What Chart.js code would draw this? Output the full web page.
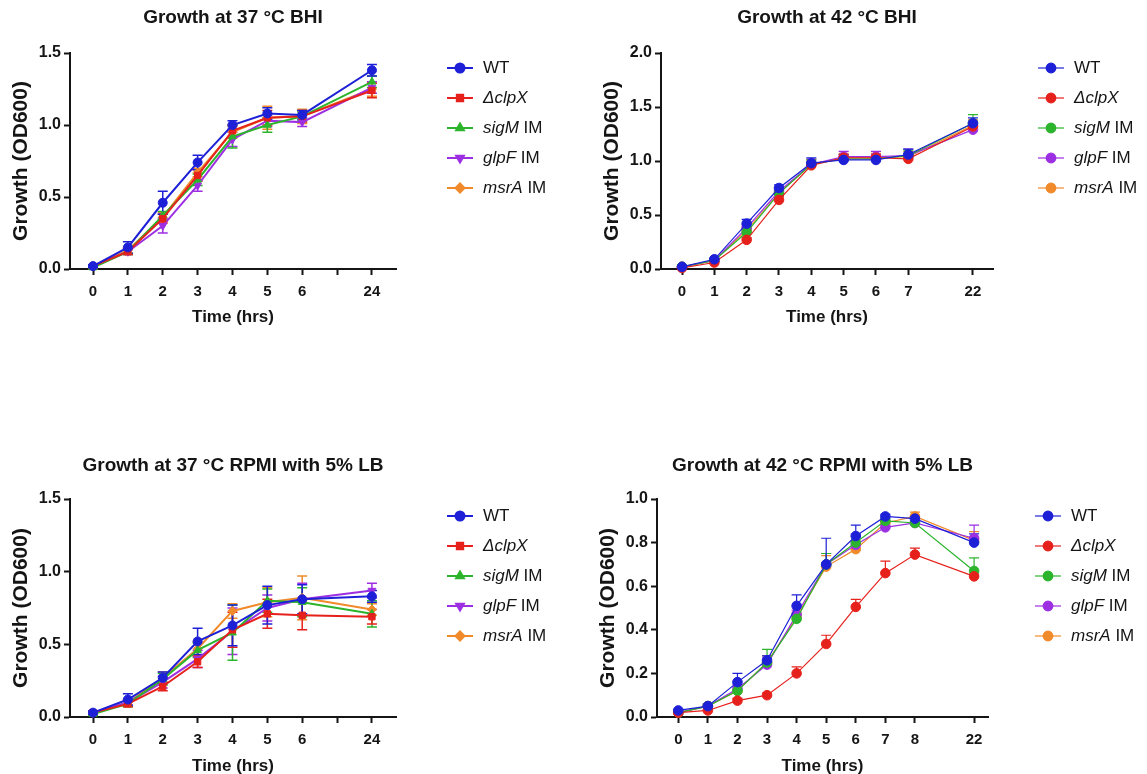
<!DOCTYPE html>
<html>
<head>
<meta charset="utf-8">
<title>Growth curves</title>
<script src="https://cdn.jsdelivr.net/npm/chart.js@4.4.1/dist/chart.umd.min.js"></script>
<style>
    html, body { margin: 0; padding: 0; background: #fff; }
    #page { position: relative; width: 1147px; height: 774px; overflow: hidden; }
    .layer { position: absolute; left: 0; top: 0; width: 1147px; height: 774px; }
</style>
</head>
<body>
<div id="page">
    <div class="layer"><canvas id="bhi37"></canvas></div>
    <div class="layer"><canvas id="bhi42"></canvas></div>
    <div class="layer"><canvas id="rpmi37"></canvas></div>
    <div class="layer"><canvas id="rpmi42"></canvas></div>
</div>
<script>
(function () {
    'use strict';

    // Strains (legend order): italic part, upright part
    var strainItalic = ['', '\u0394clpX', 'sigM', 'glpF', 'msrA'];
    var strainPlain = ['WT', '', ' IM', ' IM', ' IM'];
    var strainColors = ['#1d20d6', '#e6211c', '#2cb42c', '#9d2fe3', '#f08a2b'];
    var strainShapes = ['circle', 'rect', 'triangle', 'triangle', 'rectRot'];
    var strainRotations = [0, 0, 0, 180, 0];

    // Growth at 37 °C BHI
    var bhi37Times = ['0', '1', '2', '3', '4', '5', '6', '24'];
    var bhi37YTicks = [0, 0.5, 1.0, 1.5];
    var bhi37Means = [
        [0.02, 0.15, 0.46, 0.74, 1.00, 1.08, 1.07, 1.38],
        [0.02, 0.12, 0.35, 0.65, 0.96, 1.05, 1.06, 1.24],
        [0.01, 0.12, 0.37, 0.62, 0.92, 1.00, 1.06, 1.30],
        [0.02, 0.12, 0.30, 0.58, 0.90, 1.03, 1.02, 1.26],
        [0.02, 0.13, 0.36, 0.67, 0.95, 1.05, 1.06, 1.25]
    ];
    var bhi37SD = [
        [0.01, 0.04, 0.08, 0.05, 0.03, 0.04, 0.03, 0.04],
        [0.01, 0.02, 0.03, 0.04, 0.04, 0.05, 0.04, 0.05],
        [0.01, 0.02, 0.03, 0.04, 0.08, 0.05, 0.03, 0.04],
        [0.01, 0.02, 0.05, 0.04, 0.05, 0.04, 0.03, 0.04],
        [0.01, 0.02, 0.03, 0.03, 0.04, 0.08, 0.05, 0.05]
    ];

    // Growth at 42 °C BHI
    var bhi42Times = ['0', '1', '2', '3', '4', '5', '6', '7', '22'];
    var bhi42YTicks = [0, 0.5, 1.0, 1.5, 2.0];
    var bhi42Means = [
        [0.02, 0.09, 0.42, 0.75, 0.98, 1.01, 1.01, 1.06, 1.35],
        [0.01, 0.06, 0.27, 0.64, 0.96, 1.03, 1.03, 1.02, 1.32],
        [0.02, 0.08, 0.34, 0.70, 0.97, 1.02, 1.02, 1.05, 1.35],
        [0.02, 0.08, 0.38, 0.72, 0.97, 1.04, 1.04, 1.05, 1.29],
        [0.02, 0.08, 0.36, 0.70, 0.97, 1.03, 1.03, 1.04, 1.33]
    ];
    var bhi42SD = [
        [0.005, 0.01, 0.04, 0.03, 0.05, 0.03, 0.02, 0.05, 0.05],
        [0.005, 0.01, 0.02, 0.03, 0.03, 0.03, 0.03, 0.03, 0.04],
        [0.005, 0.01, 0.03, 0.03, 0.04, 0.04, 0.04, 0.05, 0.08],
        [0.005, 0.01, 0.03, 0.03, 0.05, 0.05, 0.05, 0.06, 0.05],
        [0.005, 0.01, 0.03, 0.03, 0.04, 0.04, 0.04, 0.05, 0.05]
    ];

    // Growth at 37 °C RPMI with 5% LB
    var rpmi37Times = ['0', '1', '2', '3', '4', '5', '6', '24'];
    var rpmi37YTicks = [0, 0.5, 1.0, 1.5];
    var rpmi37Means = [
        [0.03, 0.12, 0.27, 0.52, 0.63, 0.77, 0.81, 0.83],
        [0.03, 0.09, 0.21, 0.38, 0.60, 0.71, 0.70, 0.69],
        [0.02, 0.09, 0.26, 0.46, 0.58, 0.80, 0.79, 0.71],
        [0.03, 0.10, 0.24, 0.40, 0.59, 0.75, 0.81, 0.87],
        [0.03, 0.10, 0.27, 0.47, 0.73, 0.79, 0.82, 0.74]
    ];
    var rpmi37SD = [
        [0.01, 0.04, 0.04, 0.09, 0.14, 0.13, 0.10, 0.04],
        [0.01, 0.02, 0.03, 0.04, 0.12, 0.10, 0.10, 0.05],
        [0.01, 0.02, 0.04, 0.05, 0.19, 0.08, 0.10, 0.09],
        [0.01, 0.02, 0.04, 0.06, 0.16, 0.09, 0.11, 0.05],
        [0.01, 0.02, 0.04, 0.05, 0.05, 0.10, 0.15, 0.04]
    ];

    // Growth at 42 °C RPMI with 5% LB
    var rpmi42Times = ['0', '1', '2', '3', '4', '5', '6', '7', '8', '22'];
    var rpmi42YTicks = [0, 0.2, 0.4, 0.6, 0.8, 1.0];
    var rpmi42Means = [
        [0.03, 0.05, 0.16, 0.26, 0.51, 0.70, 0.83, 0.92, 0.91, 0.80],
        [0.02, 0.03, 0.075, 0.10, 0.20, 0.335, 0.505, 0.66, 0.745, 0.645],
        [0.02, 0.05, 0.12, 0.25, 0.45, 0.70, 0.80, 0.90, 0.89, 0.67],
        [0.02, 0.05, 0.13, 0.24, 0.47, 0.70, 0.79, 0.87, 0.89, 0.82],
        [0.02, 0.05, 0.12, 0.25, 0.46, 0.69, 0.77, 0.89, 0.92, 0.81]
    ];
    var rpmi42SD = [
        [0.005, 0.01, 0.04, 0.02, 0.05, 0.12, 0.05, 0.01, 0.01, 0.04],
        [0.005, 0.005, 0.01, 0.01, 0.03, 0.04, 0.035, 0.055, 0.03, 0.01],
        [0.005, 0.01, 0.02, 0.06, 0.02, 0.05, 0.03, 0.01, 0.01, 0.06],
        [0.005, 0.01, 0.02, 0.03, 0.02, 0.05, 0.05, 0.01, 0.01, 0.06],
        [0.005, 0.01, 0.02, 0.03, 0.02, 0.05, 0.03, 0.01, 0.02, 0.04]
    ];

    var FONT = '"Liberation Sans", Arial, Helvetica, sans-serif';
    var INK = '#151515';
    Chart.defaults.font.family = FONT;
    Chart.defaults.color = INK;

    // last time point sits one slot further right (broken axis)
    function slotOf(i, n) {
        return i === n - 1 ? i + 1 : i;
    }

    var errorBars = {
        id: 'errorBars',
        beforeDatasetsDraw: function (chart, args, opts) {
            var ctx = chart.ctx;
            var ys = chart.scales.y;
            ctx.save();
            for (var di = chart.data.datasets.length - 1; di >= 0; di--) {
                var ds = chart.data.datasets[di];
                var meta = chart.getDatasetMeta(di);
                ctx.strokeStyle = ds.borderColor;
                ctx.lineWidth = opts.width;
                ds.errors.forEach(function (e, i) {
                    var pt = meta.data[i];
                    var v = ds.data[i].y;
                    var top = ys.getPixelForValue(v + e);
                    var bot = opts.upOnly ? pt.y : ys.getPixelForValue(v - e);
                    ctx.beginPath();
                    ctx.moveTo(pt.x, top);
                    ctx.lineTo(pt.x, bot);
                    ctx.moveTo(pt.x - opts.cap, top);
                    ctx.lineTo(pt.x + opts.cap, top);
                    if (!opts.upOnly) {
                        ctx.moveTo(pt.x - opts.cap, bot);
                        ctx.lineTo(pt.x + opts.cap, bot);
                    }
                    ctx.stroke();
                });
            }
            ctx.restore();
        }
    };

    var panelDecor = {
        id: 'panelDecor',
        afterDraw: function (chart, args, opts) {
            var ctx = chart.ctx;
            var a = chart.chartArea;
            ctx.save();
            ctx.fillStyle = INK;
            ctx.font = 'bold 19px ' + FONT;
            ctx.textAlign = 'center';
            ctx.textBaseline = 'middle';
            ctx.fillText(opts.title, (a.left + a.right) / 2, opts.titleY);

            // legend
            ctx.textAlign = 'left';
            chart.data.datasets.forEach(function (ds, i) {
                var y = opts.legendY + i * 30;
                var x0 = opts.legendX;
                ctx.strokeStyle = ds.borderColor;
                ctx.fillStyle = ds.backgroundColor;
                ctx.lineWidth = ds.borderWidth;
                ctx.beginPath();
                ctx.moveTo(x0, y);
                ctx.lineTo(x0 + 26, y);
                ctx.stroke();
                Chart.helpers.drawPoint(ctx, {
                    pointStyle: ds.pointStyle,
                    rotation: ds.pointRotation || 0,
                    radius: ds.pointRadius,
                    borderWidth: 1
                }, x0 + 13, y);

                var tx = x0 + 36;
                ctx.fillStyle = INK;
                if (strainItalic[i]) {
                    ctx.font = 'italic 17px ' + FONT;
                    ctx.fillText(strainItalic[i], tx, y);
                    tx += ctx.measureText(strainItalic[i]).width;
                }
                if (strainPlain[i]) {
                    ctx.font = '17px ' + FONT;
                    ctx.fillText(strainPlain[i], tx, y);
                }
            });
            ctx.restore();
        }
    };

    var panels = [
        { id: 'bhi37', title: 'Growth at 37 \u00B0C BHI', times: bhi37Times, yTicks: bhi37YTicks, means: bhi37Means, sd: bhi37SD,
          left: 70, right: 396, top: 53, bottom: 269, xMin: -0.66, xMax: 8.69, gapTick: true, dashedAxis: true,
          titleY: 18, xTitleY: 317, legendX: 447, legendY: 68, markers: true },
        { id: 'bhi42', title: 'Growth at 42 \u00B0C BHI', times: bhi42Times, yTicks: bhi42YTicks, means: bhi42Means, sd: bhi42SD,
          left: 661, right: 993, top: 53, bottom: 269, xMin: -0.65, xMax: 9.62, gapTick: false, dashedAxis: false,
          titleY: 18, xTitleY: 317, legendX: 1038, legendY: 68, markers: false },
        { id: 'rpmi37', title: 'Growth at 37 \u00B0C RPMI with 5% LB', times: rpmi37Times, yTicks: rpmi37YTicks, means: rpmi37Means, sd: rpmi37SD,
          left: 70, right: 396, top: 499, bottom: 717, xMin: -0.66, xMax: 8.69, gapTick: true, dashedAxis: false,
          titleY: 466, xTitleY: 766, legendX: 447, legendY: 516, markers: true },
        { id: 'rpmi42', title: 'Growth at 42 \u00B0C RPMI with 5% LB', times: rpmi42Times, yTicks: rpmi42YTicks, means: rpmi42Means, sd: rpmi42SD,
          left: 657, right: 988, top: 499, bottom: 717, xMin: -0.72, xMax: 10.47, gapTick: false, dashedAxis: false,
          titleY: 466, xTitleY: 766, legendX: 1035, legendY: 516, markers: false }
    ];

    var PAGE_W = 1147, PAGE_H = 774, Y_W = 70, X_H = 60;

    panels.forEach(function (p) {
        var n = p.times.length;
        var slots = p.times.map(function (t, i) { return slotOf(i, n); });
        var tickSlots = slots.slice();
        if (p.gapTick) tickSlots.splice(n - 1, 0, n - 1);

        var datasets = p.means.map(function (m, si) {
            return {
                label: strainItalic[si] + strainPlain[si],
                data: m.map(function (v, i) { return { x: slots[i], y: v }; }),
                errors: p.sd[si],
                borderColor: strainColors[si],
                backgroundColor: strainColors[si],
                borderWidth: p.markers ? 2 : 1.2,
                pointStyle: p.markers ? strainShapes[si] : 'circle',
                pointRotation: p.markers ? strainRotations[si] : 0,
                pointRadius: p.markers ? 4.5 : 4.8,
                pointBorderWidth: 1,
                tension: 0,
                clip: false
            };
        });

        new Chart(document.getElementById(p.id), {
            type: 'line',
            data: { datasets: datasets },
            plugins: [errorBars, panelDecor],
            options: {
                responsive: true,
                maintainAspectRatio: false,
                animation: false,
                events: [],
                layout: {
                    padding: {
                        left: p.left - Y_W,
                        right: PAGE_W - p.right,
                        top: p.top,
                        bottom: PAGE_H - p.bottom - X_H
                    }
                },
                plugins: {
                    legend: { display: false },
                    tooltip: { enabled: false },
                    errorBars: { upOnly: !p.markers, cap: 5, width: p.markers ? 1.5 : 1.2 },
                    panelDecor: { title: p.title, titleY: p.titleY, legendX: p.legendX, legendY: p.legendY }
                },
                scales: {
                    x: {
                        type: 'linear',
                        min: p.xMin,
                        max: p.xMax,
                        afterFit: function (s) { s.height = X_H; },
                        afterBuildTicks: function (s) {
                            s.ticks = tickSlots.map(function (v) { return { value: v }; });
                        },
                        ticks: {
                            autoSkip: false,
                            maxRotation: 0,
                            padding: 8,
                            color: INK,
                            font: { size: 15, weight: 'bold' },
                            callback: function (v) {
                                var i = slots.indexOf(v);
                                return i === -1 ? '' : p.times[i];
                            }
                        },
                        grid: { drawOnChartArea: false, drawTicks: true, tickLength: 6, tickWidth: 2, tickColor: INK },
                        border: { color: INK, width: 2, dash: p.dashedAxis ? [4, 2] : [] },
                        title: {
                            display: true,
                            text: 'Time (hrs)',
                            color: INK,
                            font: { size: 17, weight: 'bold', lineHeight: 1 },
                            padding: { top: 0, bottom: p.bottom + X_H - p.xTitleY - 8.5 }
                        }
                    },
                    y: {
                        min: p.yTicks[0],
                        max: p.yTicks[p.yTicks.length - 1],
                        afterFit: function (s) { s.width = Y_W; },
                        afterBuildTicks: function (s) {
                            s.ticks = p.yTicks.map(function (v) { return { value: v }; });
                        },
                        ticks: {
                            padding: 3,
                            color: INK,
                            font: { size: 16, weight: 'bold' },
                            callback: function (v) { return v.toFixed(1); }
                        },
                        grid: { drawOnChartArea: false, drawTicks: true, tickLength: 6, tickWidth: 2, tickColor: INK },
                        border: { color: INK, width: 2 },
                        title: {
                            display: true,
                            text: 'Growth (OD600)',
                            color: INK,
                            font: { size: 21, weight: 'bold', lineHeight: 1 },
                            padding: { top: 11, bottom: 0 }
                        }
                    }
                }
            }
        });
    });
})();
</script>
</body>
</html>
